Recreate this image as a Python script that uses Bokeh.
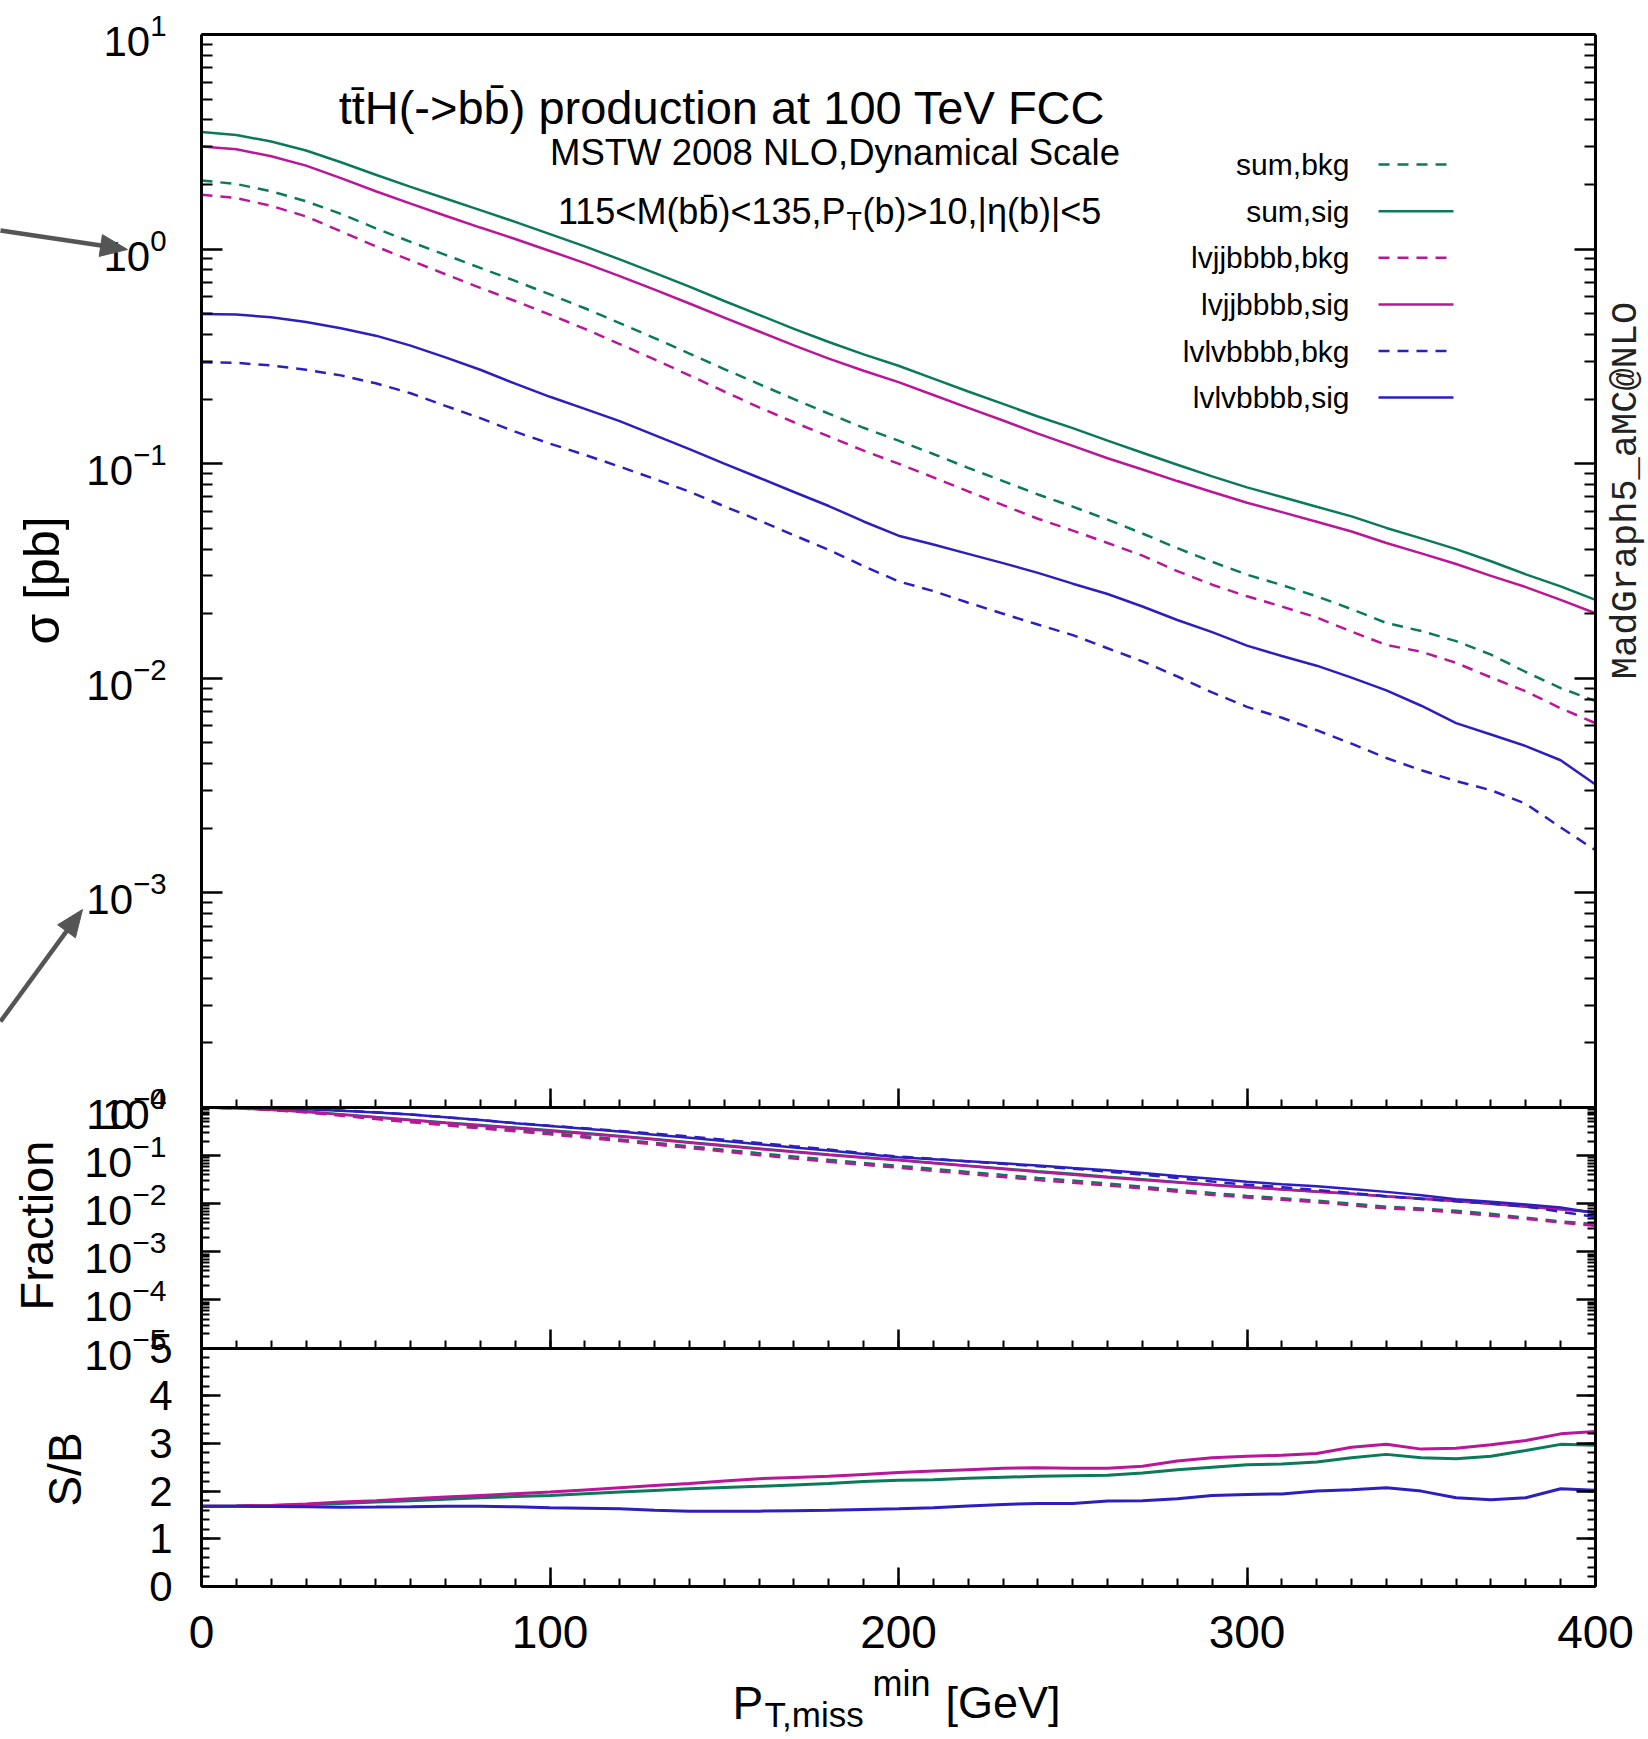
import math
from bokeh.plotting import figure
from bokeh.models import (Range1d, FixedTicker, LogAxis, LinearAxis, LogScale, LinearScale,
                          CustomJSTickFormatter, Label)
from bokeh.embed import file_html
from bokeh.resources import INLINE

# ---------------- data ----------------
pt_min = [0, 10, 20, 30, 40, 50, 60, 70, 80, 90, 100, 110, 120, 130, 140, 150,
          160, 170, 180, 190, 200, 210, 220, 230, 240, 250, 260, 270, 280, 290,
          300, 310, 320, 330, 340, 350, 360, 370, 380, 390, 400]

sum_sig = [3.51, 3.40, 3.17, 2.88, 2.54, 2.22, 1.95, 1.72, 1.52, 1.34, 1.175,
           1.03, 0.895, 0.775, 0.668, 0.573, 0.494, 0.425, 0.369, 0.323, 0.286,
           0.249, 0.217, 0.190, 0.166, 0.1465, 0.128, 0.1125, 0.0989, 0.0873,
           0.0776, 0.0700, 0.0630, 0.0568, 0.0502, 0.0449, 0.0400, 0.0351,
           0.0305, 0.0268, 0.0232]
sum_bkg = [2.09, 2.01, 1.86, 1.67, 1.46, 1.25, 1.08, 0.940, 0.817, 0.711, 0.615,
           0.530, 0.452, 0.385, 0.326, 0.276, 0.235, 0.200, 0.171, 0.147, 0.128,
           0.111, 0.0956, 0.0830, 0.0719, 0.0631, 0.0549, 0.0473, 0.0404, 0.0349,
           0.0304, 0.0272, 0.0241, 0.0210, 0.0181, 0.0166, 0.0149, 0.0129,
           0.0107, 0.0090, 0.00784]
lvjj_sig = [3.01, 2.92, 2.71, 2.45, 2.14, 1.86, 1.63, 1.43, 1.26, 1.115, 0.98,
            0.86, 0.748, 0.647, 0.558, 0.479, 0.413, 0.356, 0.309, 0.271, 0.240,
            0.209, 0.182, 0.159, 0.138, 0.121, 0.106, 0.094, 0.083, 0.0738,
            0.0658, 0.0595, 0.0536, 0.0483, 0.0427, 0.0382, 0.0341, 0.0300,
            0.0266, 0.0232, 0.0201]
lvjj_bkg = [1.79, 1.73, 1.59, 1.42, 1.21, 1.03, 0.886, 0.763, 0.660, 0.573, 0.495,
            0.425, 0.361, 0.306, 0.258, 0.217, 0.183, 0.156, 0.134, 0.115, 0.100,
            0.0864, 0.0743, 0.0641, 0.0554, 0.0488, 0.0427, 0.0373, 0.0316,
            0.0273, 0.0241, 0.0216, 0.0192, 0.0165, 0.0143, 0.0133, 0.0118,
            0.0101, 0.00869, 0.00725, 0.00618]
lvlv_sig = [0.499, 0.496, 0.481, 0.457, 0.428, 0.395, 0.355, 0.313, 0.274, 0.236,
            0.205, 0.180, 0.158, 0.136, 0.117, 0.100, 0.0860, 0.0738, 0.0635,
            0.0538, 0.0462, 0.0420, 0.0380, 0.0344, 0.0310, 0.0276, 0.0247,
            0.0216, 0.0187, 0.0164, 0.0142, 0.0127, 0.01145, 0.01007, 0.00879,
            0.00745, 0.00618, 0.00547, 0.00483, 0.00415, 0.00320]
lvlv_bkg = [0.297, 0.295, 0.287, 0.274, 0.258, 0.237, 0.213, 0.186, 0.163, 0.141,
            0.124, 0.110, 0.0969, 0.0850, 0.0741, 0.0633, 0.0544, 0.0464, 0.0397,
            0.0333, 0.0283, 0.0255, 0.0225, 0.0200, 0.0178, 0.0159, 0.0138,
            0.0120, 0.0102, 0.00859, 0.00736, 0.00655, 0.00573, 0.00496, 0.00425,
            0.00373, 0.00332, 0.00301, 0.00260, 0.00202, 0.00158]

sb_sum = [1.683, 1.69, 1.70, 1.72, 1.74, 1.77, 1.80, 1.83, 1.86, 1.885, 1.91,
          1.945, 1.98, 2.015, 2.05, 2.075, 2.10, 2.13, 2.16, 2.20, 2.23,
          2.24, 2.27, 2.29, 2.31, 2.32, 2.33, 2.38, 2.45, 2.50, 2.55,
          2.57, 2.61, 2.70, 2.77, 2.70, 2.68, 2.73, 2.85, 2.98, 2.96]
sb_lvjj = [1.683, 1.69, 1.70, 1.73, 1.77, 1.80, 1.84, 1.875, 1.91, 1.945, 1.98,
           2.025, 2.07, 2.115, 2.16, 2.21, 2.26, 2.285, 2.31, 2.35, 2.39,
           2.42, 2.45, 2.48, 2.49, 2.48, 2.48, 2.52, 2.63, 2.70, 2.73,
           2.75, 2.79, 2.92, 2.98, 2.88, 2.90, 2.97, 3.06, 3.20, 3.25]
sb_lvlv = [1.683, 1.68, 1.676, 1.67, 1.662, 1.665, 1.67, 1.68, 1.683, 1.67, 1.65,
           1.64, 1.63, 1.60, 1.58, 1.58, 1.58, 1.59, 1.60, 1.615, 1.63,
           1.65, 1.69, 1.72, 1.74, 1.74, 1.79, 1.80, 1.84, 1.91, 1.93,
           1.94, 2.00, 2.03, 2.07, 2.00, 1.86, 1.82, 1.86, 2.05, 2.02]

legend_labels = ["sum,bkg", "sum,sig", "lvjjbbbb,bkg", "lvjjbbbb,sig",
                 "lvlvbbbb,bkg", "lvlvbbbb,sig"]

x_major = [0, 100, 200, 300, 400]
x_minor = list(range(0, 401, 10))

# ---------------- styling / layout ----------------
GREEN = "#0a7a5a"
MAGENTA = "#bb1599"
BLUE = "#2d1fbf"
GREY = "#555555"
FONT = "Liberation Sans"
MONO = "Liberation Mono"
DASH = "11 8"

W, H = 1646, 1738                      # canvas = frame
LEFT, RIGHT = 201.0, 1595.0            # pixel x of 0 and 400 GeV
S = (RIGHT - LEFT) / 400.0
MAIN_TOP, MAIN_BOT, FRAC_BOT, SB_BOT = 34.0, 1107.0, 1347.5, 1586.0
DM = (MAIN_BOT - MAIN_TOP) / 5.0       # px per decade, main panel
DF = (FRAC_BOT - MAIN_BOT) / 5.0       # px per decade, fraction panel
DS = (SB_BOT - FRAC_BOT) / 5.0         # px per unit, S/B panel


def gx(px):
    return (px - LEFT) / S


def ym(py):
    return 10 ** (1 - (py - MAIN_TOP) / DM)


def yf(py):
    return 10 ** (-(py - MAIN_BOT) / DF)


def ysb(py):
    return (SB_BOT - py) / DS


p = figure(width=W, height=H, title=None,
           x_range=Range1d(gx(0), gx(W)),
           y_range=Range1d(ym(H), ym(0)), y_axis_type="log",
           x_axis_location=None, y_axis_location=None,
           min_border_left=0, min_border_right=0, min_border_top=0, min_border_bottom=0,
           output_backend="svg", toolbar_location=None)
p.extra_y_ranges = {"frac": Range1d(yf(H), yf(0)), "sb": Range1d(ysb(H), ysb(0))}
p.extra_y_scales = {"frac": LogScale(), "sb": LinearScale()}
p.grid.visible = False
p.outline_line_color = None
p.background_fill_color = "white"
p.border_fill_color = "white"

blank = CustomJSTickFormatter(code="return ''")


def log_ticker(lo, hi):
    majors = [10.0 ** e for e in range(lo, hi + 1)]
    minors = [m * 10.0 ** e for e in range(lo, hi) for m in range(2, 10)]
    return FixedTicker(ticks=majors, minor_ticks=minors)


x_ticker = FixedTicker(ticks=x_major, minor_ticks=x_minor)
main_ticker = log_ticker(-4, 1)
frac_ticker = log_ticker(-5, 0)
sb_ticker = FixedTicker(ticks=[0, 1, 2, 3, 4, 5], minor_ticks=[i * 0.2 for i in range(26)])


def add_axis(cls, side, loc, bounds, ticker, yname="default", label_size=None,
             standoff=0, tin=19, tmin=8):
    ax = cls(fixed_location=loc, bounds=bounds, ticker=ticker, y_range_name=yname)
    ax.axis_line_width = 3
    ax.axis_line_color = "black"
    ax.major_tick_in = tin
    ax.major_tick_out = 0
    ax.minor_tick_in = tmin
    ax.minor_tick_out = 0
    ax.major_tick_line_width = 2.5
    ax.minor_tick_line_width = 2
    ax.major_tick_line_color = "black"
    ax.minor_tick_line_color = "black"
    ax.major_label_standoff = standoff
    ax.major_label_text_font = FONT
    ax.major_label_text_color = "black"
    if label_size is None:
        ax.formatter = blank
    else:
        ax.major_label_text_font_size = label_size
    p.add_layout(ax, side)
    return ax


# vertical axes (left with labels, right mirrored)
add_axis(LogAxis, "left", 0, (1e-4, 10), main_ticker, label_size="42px", standoff=35, tin=21, tmin=11)
add_axis(LogAxis, "right", 400, (1e-4, 10), main_ticker, tin=21, tmin=11)
add_axis(LogAxis, "left", 0, (1e-5, 1), frac_ticker, yname="frac", label_size="43px", standoff=35)
add_axis(LogAxis, "right", 400, (1e-5, 1), frac_ticker, yname="frac")
add_axis(LinearAxis, "left", 0, (0, 5), sb_ticker, yname="sb", label_size="42px", standoff=29)
add_axis(LinearAxis, "right", 400, (0, 5), sb_ticker, yname="sb")
# horizontal axes (panel borders)
add_axis(LinearAxis, "above", 10, (0, 400), x_ticker, tin=0, tmin=0)
add_axis(LinearAxis, "below", 1e-4, (0, 400), x_ticker)
add_axis(LinearAxis, "below", 1e-5, (0, 400), x_ticker, yname="frac")
add_axis(LinearAxis, "below", 0, (0, 400), x_ticker, yname="sb", label_size="46px", standoff=29)

series = [(sum_bkg, GREEN, DASH), (sum_sig, GREEN, "solid"),
          (lvjj_bkg, MAGENTA, DASH), (lvjj_sig, MAGENTA, "solid"),
          (lvlv_bkg, BLUE, DASH), (lvlv_sig, BLUE, "solid")]

# main panel curves
for ys, c, d in series:
    p.line(pt_min, ys, line_color=c, line_dash=d, line_width=2.5)

# fraction panel curves (each normalised to its value at PT,miss^min = 0)
for ys, c, d in series:
    p.line(pt_min, [v / ys[0] for v in ys], line_color=c, line_dash=d, line_width=2.5,
           y_range_name="frac")

# S/B panel curves
p.line(pt_min, sb_sum, line_color=GREEN, line_width=3, y_range_name="sb")
p.line(pt_min, sb_lvjj, line_color=MAGENTA, line_width=3, y_range_name="sb")
p.line(pt_min, sb_lvlv, line_color=BLUE, line_width=3, y_range_name="sb")


def text(px, py, s, size, align="left", font=FONT, angle=0.0, color="black"):
    p.add_layout(Label(x=gx(px), y=ym(py), text=s, text_align=align, text_baseline="middle",
                       text_font=font, text_font_size=size, angle=angle, text_color=color))


# legend: label on the left, line sample on the right
for i, ((ys, c, d), name) in enumerate(zip(series, legend_labels)):
    py = 164.1 + 46.6 * i
    text(1349, py, name, "30px", align="right")
    p.line([gx(1378), gx(1453)], [ym(py), ym(py)], line_color=c, line_dash=d, line_width=2.5)

# in-plot texts
text(721.5, 106.5, "tt\u0304H(->bb\u0304) production at 100 TeV FCC", "47px", align="center")
text(834.5, 152, "MSTW 2008 NLO,Dynamical Scale", "36.5px", align="center")
text(845, 211, "115<M(bb\u0304)<135,P", "36px", align="right")
text(846, 220, "T", "25px")
text(862, 211, "(b)>10,|η(b)|<5", "36px")
text(1625, 490, "MadGraph5_aMC@NLO", "37px", align="center",
     font=MONO, angle=math.pi / 2, color="#222222")

# axis titles
text(41, 580, "σ [pb]", "50px", align="center", angle=math.pi / 2)
text(36, 1225, "Fraction", "47px", align="center", angle=math.pi / 2)
text(64, 1469, "S/B", "46px", align="center", angle=math.pi / 2)
text(732, 1702, "P", "46px")
text(764, 1714, "T,miss", "35px")
text(872, 1683, "min", "36px")
text(945, 1702, "[GeV]", "45px")


# grey pointer arrows in the left margin
def arrow(x0, y0, x1, y1, head_len=27.0, head_half=11.0):
    dx, dy = x1 - x0, y1 - y0
    n = math.hypot(dx, dy)
    ux, uy = dx / n, dy / n
    bx, by = x1 - head_len * ux, y1 - head_len * uy
    p.line([gx(x0), gx(bx + 2 * ux)], [ym(y0), ym(by + 2 * uy)], line_color=GREY,
           line_width=4.5, level="overlay")
    hx = [x1, bx - head_half * uy, bx + head_half * uy]
    hy = [y1, by + head_half * ux, by - head_half * ux]
    p.patch([gx(v) for v in hx], [ym(v) for v in hy], fill_color=GREY, line_color=GREY,
            line_width=1, level="overlay")


arrow(0, 230, 127, 249)
arrow(0, 1021, 82, 909)

open("out.html", "w").write(file_html(p, INLINE))
